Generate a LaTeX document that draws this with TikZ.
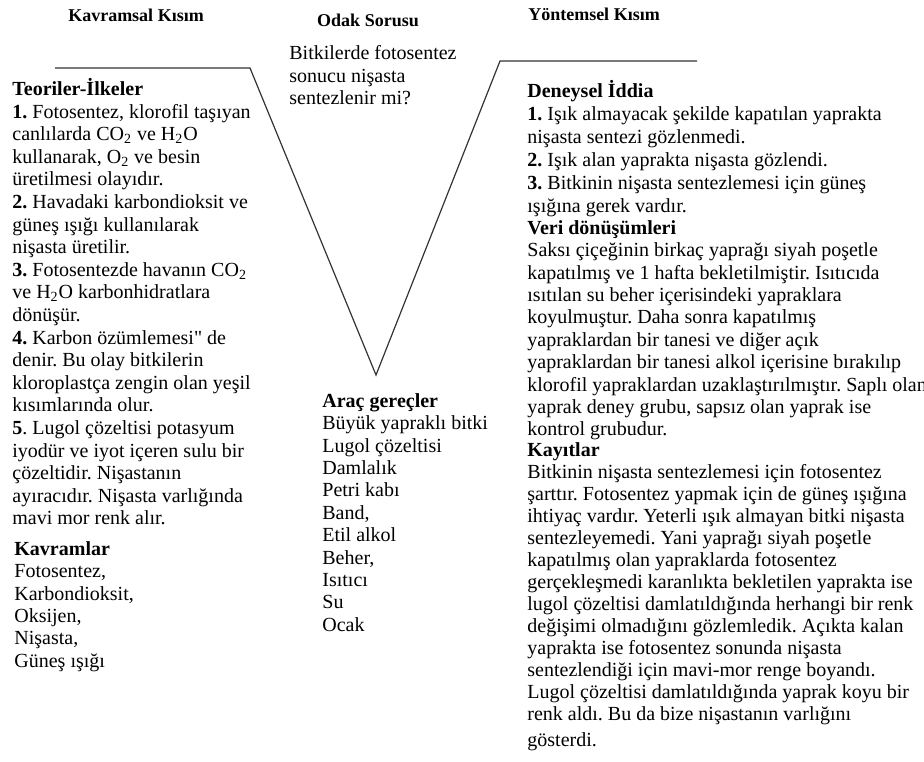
\documentclass[tikz,border=0pt]{standalone}
\usepackage{fontspec}
\setmainfont{Liberation Serif}
\usetikzlibrary{positioning}
\frenchspacing

\begin{document}
\begin{tikzpicture}[%
    x=0.5pt,
    y=-0.5pt,
    vline/.style={draw=black!80, line width=0.6pt},
    part/.style={font=\fontsize{9}{10}\selectfont\bfseries, inner sep=0pt},
    block/.style={font=\fontsize{10}{#1}\selectfont, align=left,
                  inner sep=0pt, anchor=north west,
                  execute at begin node={\rule{0pt}{9pt}}},
    block/.default=11.2,
  ]
    \useasboundingbox (0,0) rectangle (924,761);

    % the V
    \coordinate (lt) at (55,68);
    \coordinate (lv) at (250,68);
    \coordinate (vb) at (376,375);
    \coordinate (rv) at (500,61);
    \coordinate (rt) at (697,61);
    \draw[vline] (lt) -- (lv) -- (vb) -- (rv) -- (rt);

    % titles
    \node[part] (kavramsal) at (136,15) {Kavramsal Kısım};
    \node[part] (odak)      at (368,20) {Odak Sorusu};
    \node[part] (yontemsel) at (594,14) {Yöntemsel Kısım};

    % focus question
    \node[block=11.3] (soru) at (289,45) {Bitkilerde fotosentez\\
      sonucu nişasta\\ sentezlenir mi?};

    % left side
    \node[block=11.3] (teori) at (12,78) {\textbf{Teoriler-İlkeler}\\
      \textbf{1.} Fotosentez, klorofil taşıyan\\
      canlılarda CO\textsubscript{2} ve H\textsubscript{2}O\\
      kullanarak, O\textsubscript{2} ve besin\\
      üretilmesi olayıdır.\\
      \textbf{2.} Havadaki karbondioksit ve\\
      güneş ışığı kullanılarak\\
      nişasta üretilir.\\
      \textbf{3.} Fotosentezde havanın CO\textsubscript{2}\\
      ve H\textsubscript{2}O karbonhidratlara\\
      dönüşür.\\
      \textbf{4.} Karbon özümlemesi\textquotedbl{} de\\
      denir. Bu olay bitkilerin\\
      kloroplastça zengin olan yeşil\\
      kısımlarında olur.\\
      \textbf{5}. Lugol çözeltisi potasyum\\
      iyodür ve iyot içeren sulu bir\\
      çözeltidir. Nişastanın\\
      ayıracıdır. Nişasta varlığında\\
      mavi mor renk alır.};
    \node[block] (kavram) at (14,541) {\textbf{Kavramlar}\\
      Fotosentez,\\ Karbondioksit,\\ Oksijen,\\ Nişasta,\\ Güneş ışığı};

    % bottom of the V
    \node[block] (arac) at (322,393) {\textbf{Araç gereçler}\\
      Büyük yapraklı bitki\\ Lugol çözeltisi\\ Damlalık\\ Petri kabı\\
      Band,\\ Etil alkol\\ Beher,\\ Isıtıcı\\ Su\\ Ocak};

    % right side
    \node[block=11.5] (iddia) at (527,80) {\textbf{Deneysel İddia}\\
      \textbf{1.} Işık almayacak şekilde kapatılan yaprakta\\
      nişasta sentezi gözlenmedi.\\
      \textbf{2.} Işık alan yaprakta nişasta gözlendi.\\
      \textbf{3.} Bitkinin nişasta sentezlemesi için güneş\\
      ışığına gerek vardır.};
    \node[block] (veri) at (527,220) {\textbf{Veri dönüşümleri}\\
      Saksı çiçeğinin birkaç yaprağı siyah poşetle\\
      kapatılmış ve 1 hafta bekletilmiştir. Isıtıcıda\\
      ısıtılan su beher içerisindeki yapraklara\\
      koyulmuştur. Daha sonra kapatılmış\\
      yapraklardan bir tanesi ve diğer açık\\
      yapraklardan bir tanesi alkol içerisine bırakılıp\\
      klorofil yapraklardan uzaklaştırılmıştır. Saplı olan\\
      yaprak deney grubu, sapsız olan yaprak ise\\
      kontrol grubudur.};
    \node[block=11] (kayit) at (527,442) {\textbf{Kayıtlar}\\
      Bitkinin nişasta sentezlemesi için fotosentez\\
      şarttır. Fotosentez yapmak için de güneş ışığına\\
      ihtiyaç vardır. Yeterli ışık almayan bitki nişasta\\
      sentezleyemedi. Yani yaprağı siyah poşetle\\
      kapatılmış olan yapraklarda fotosentez\\
      gerçekleşmedi karanlıkta bekletilen yaprakta ise\\
      lugol çözeltisi damlatıldığında herhangi bir renk\\
      değişimi olmadığını gözlemledik. Açıkta kalan\\
      yaprakta ise fotosentez sonunda nişasta\\
      sentezlendiği için mavi-mor renge boyandı.\\
      Lugol çözeltisi damlatıldığında yaprak koyu bir\\
      renk aldı. Bu da bize nişastanın varlığını\\[2pt]
      gösterdi.};
  \end{tikzpicture}
\end{document}
